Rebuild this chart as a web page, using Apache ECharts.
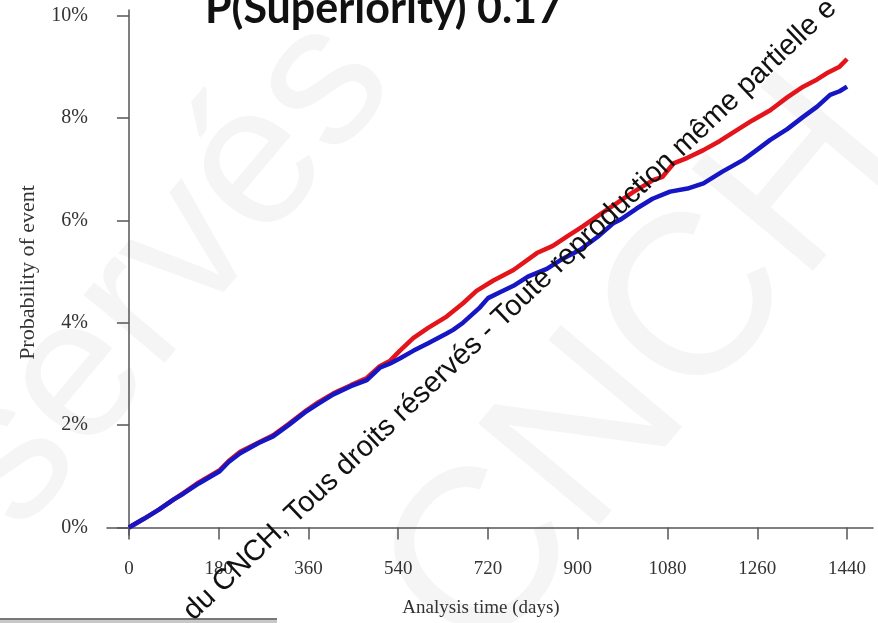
<!DOCTYPE html>
<html>
<head>
<meta charset="utf-8">
<script src="https://cdn.jsdelivr.net/npm/echarts@6/dist/echarts.min.js"></script>
<style>
  html, body { margin: 0; padding: 0; background: #fff; }
  #chart { width: 878px; height: 623px; }
</style>
</head>
<body>
<div id="chart"></div>
<script>
// ticks on both axes
var xTicks = [0, 180, 360, 540, 720, 900, 1080, 1260, 1440];
var yTicks = [0, 2, 4, 6, 8, 10];

// analysis time (days) and cumulative probability (%)
var redDays = [0, 30, 60, 90, 109, 140, 182, 200, 223, 260, 289, 320, 356, 380, 410, 445, 477, 503, 523, 543, 570, 600, 637, 670, 697, 730, 771, 818, 850, 878, 910, 938, 985, 1011, 1052, 1070, 1092, 1120, 1152, 1185, 1219, 1250, 1286, 1320, 1352, 1380, 1399, 1425, 1440];
var redProb = [0, 0.17, 0.35, 0.55, 0.67, 0.88, 1.12, 1.30, 1.48, 1.66, 1.80, 2.02, 2.29, 2.45, 2.62, 2.78, 2.92, 3.15, 3.25, 3.45, 3.70, 3.90, 4.12, 4.38, 4.62, 4.82, 5.03, 5.36, 5.50, 5.68, 5.88, 6.07, 6.38, 6.55, 6.79, 6.85, 7.11, 7.22, 7.37, 7.55, 7.76, 7.95, 8.15, 8.40, 8.61, 8.75, 8.87, 9.00, 9.15];

var blueDays = [0, 30, 60, 90, 109, 140, 182, 200, 223, 260, 289, 320, 356, 380, 410, 445, 477, 503, 523, 543, 570, 600, 637, 650, 670, 704, 720, 745, 771, 800, 838, 870, 904, 940, 971, 985, 1018, 1050, 1085, 1120, 1152, 1190, 1232, 1260, 1286, 1320, 1352, 1380, 1406, 1425, 1440];
var blueProb = [0, 0.17, 0.35, 0.55, 0.66, 0.86, 1.10, 1.28, 1.45, 1.65, 1.78, 2.00, 2.27, 2.42, 2.60, 2.76, 2.88, 3.12, 3.20, 3.30, 3.45, 3.60, 3.79, 3.86, 4.00, 4.30, 4.48, 4.60, 4.72, 4.90, 5.05, 5.25, 5.42, 5.68, 5.94, 6.01, 6.23, 6.42, 6.56, 6.62, 6.72, 6.95, 7.18, 7.38, 7.57, 7.78, 8.02, 8.22, 8.45, 8.52, 8.61];

function pairs(xs, ys) {
  return xs.map(function (x, i) { return [x, ys[i]]; });
}

var serif = '"Liberation Serif", "DejaVu Serif", serif';
var chart = echarts.init(document.getElementById('chart'));

chart.setOption({
  animation: false,
  backgroundColor: '#fff',
  title: {
    text: 'P(Superiority) 0.17',
    left: 200,
    top: -17,
    textStyle: {
      fontFamily: 'Lato, "Open Sans", sans-serif',
      fontWeight: 'bold',
      fontSize: 43,
      color: '#111'
    }
  },
  grid: { left: 107, right: 5, top: 10, bottom: 88 },
  xAxis: {
    type: 'value',
    min: -44,
    max: 1492,
    name: 'Analysis time (days)',
    nameLocation: 'middle',
    nameGap: 64,
    nameTextStyle: { fontFamily: serif, fontSize: 19, color: '#333', padding: [0, 18, 0, 0] },
    axisLine: { lineStyle: { color: '#555', width: 1.5 } },
    axisTick: { customValues: xTicks, length: 12, lineStyle: { color: '#555', width: 1.5 } },
    axisLabel: {
      customValues: xTicks,
      margin: 25,
      fontFamily: serif,
      fontSize: 19,
      color: '#333',
      formatter: function (v) { return String(v); }
    },
    splitLine: { show: false }
  },
  yAxis: {
    type: 'value',
    min: -0.146,
    max: 10.107,
    name: 'Probability of event',
    nameLocation: 'middle',
    nameGap: 68,
    nameTextStyle: { fontFamily: serif, fontSize: 22, color: '#333' },
    axisLine: { show: true, lineStyle: { color: '#555', width: 1.5 } },
    axisTick: { show: true, customValues: yTicks, length: 12, lineStyle: { color: '#555', width: 1.5 } },
    axisLabel: {
      customValues: yTicks,
      margin: 19,
      fontFamily: serif,
      fontSize: 20,
      color: '#333',
      formatter: function (v) { return v + '%'; }
    },
    splitLine: { show: false }
  },
  series: [
    {
      name: 'red',
      type: 'line',
      showSymbol: false,
      data: pairs(redDays, redProb),
      lineStyle: { color: '#e4141b', width: 4.5 },
      itemStyle: { color: '#e4141b' },
      z: 3
    },
    {
      name: 'blue',
      type: 'line',
      showSymbol: false,
      data: pairs(blueDays, blueProb),
      lineStyle: { color: '#1616c4', width: 4.5 },
      itemStyle: { color: '#1616c4' },
      z: 4
    }
  ],
  graphic: [
    // faint background watermark letters
    {
      type: 'text', x: -60, y: 700, rotation: 50 * Math.PI / 180, z: -10, silent: true,
      style: { text: 'réservés', font: '200px "Liberation Sans", sans-serif', fill: '#f5f5f5', verticalAlign: 'bottom' }
    },
    {
      type: 'text', x: 520, y: 700, rotation: 50 * Math.PI / 180, z: -10, silent: true,
      style: { text: 'CNCH', font: '230px "Liberation Sans", sans-serif', fill: '#f5f5f5', verticalAlign: 'bottom' }
    },
    // diagonal copyright line
    {
      type: 'text', x: 198, y: 626, rotation: 43.5 * Math.PI / 180, z: 100, silent: true,
      style: {
        text: 'du CNCH, Tous droits réservés - Toute reproduction même partielle e',
        font: '29px "Liberation Sans", Arial, sans-serif',
        fill: '#111',
        verticalAlign: 'bottom'
      }
    },
    // slide edge at the bottom left
    { type: 'rect', shape: { x: 0, y: 618, width: 277, height: 2 }, style: { fill: '#777' }, silent: true },
    { type: 'rect', shape: { x: 0, y: 620, width: 277, height: 3 }, style: { fill: '#c8c8c8' }, silent: true }
  ]
});
</script>
</body>
</html>
